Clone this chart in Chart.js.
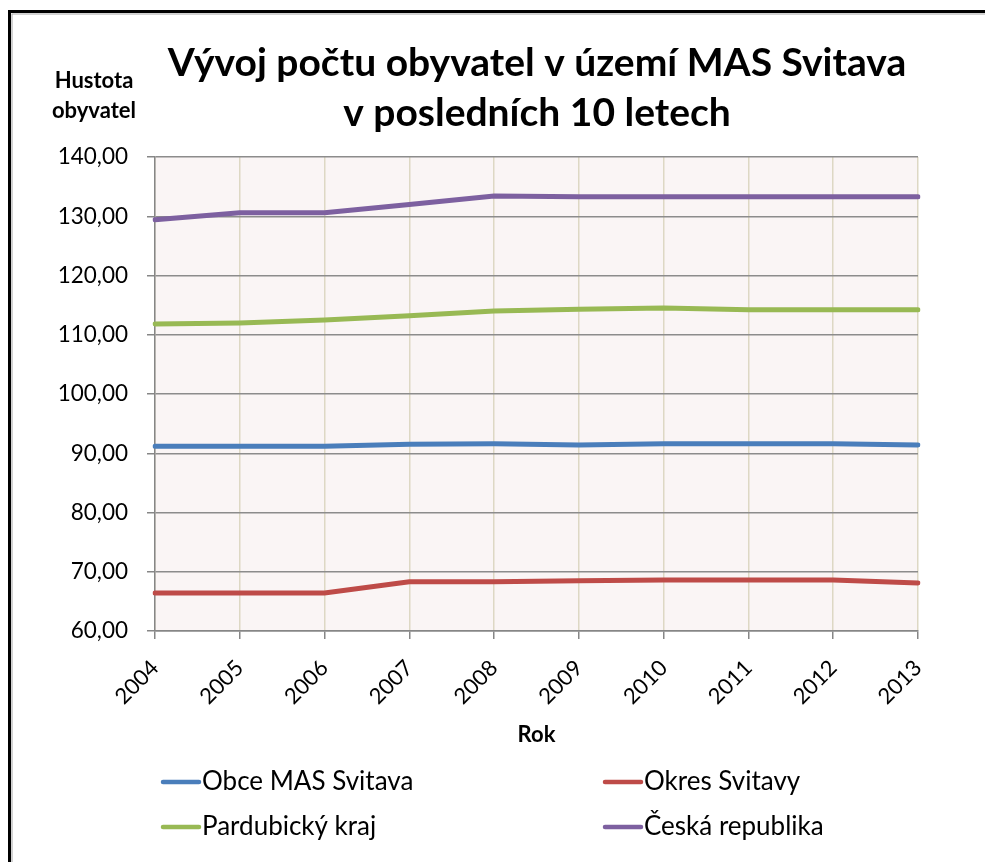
<!DOCTYPE html>
<html>
<head>
<meta charset="utf-8">
<script src="https://cdn.jsdelivr.net/npm/chart.js@4.4.1/dist/chart.umd.min.js"></script>
<style>
  html, body { margin: 0; padding: 0; background: #fff; }
  #wrap { width: 985px; height: 862px; position: relative; }
</style>
</head>
<body>
<div id="wrap"><canvas id="populationChart" width="985" height="862"></canvas></div>
<script>
// data (hustota obyvatel)
const years = ["2004", "2005", "2006", "2007", "2008", "2009", "2010", "2011", "2012", "2013"];
const obceMas = [91.2, 91.2, 91.2, 91.5, 91.6, 91.4, 91.6, 91.6, 91.6, 91.4];
const okresSvitavy = [66.4, 66.4, 66.4, 68.3, 68.3, 68.5, 68.6, 68.6, 68.6, 68.1];
const pardubickyKraj = [111.8, 112.0, 112.5, 113.2, 114.0, 114.3, 114.5, 114.2, 114.2, 114.2];
const ceskaRepublika = [129.4, 130.6, 130.6, 132.0, 133.4, 133.3, 133.3, 133.3, 133.3, 133.3];
const seriesNames = ["Obce MAS Svitava", "Okres Svitavy", "Pardubický kraj", "Česká republika"];
const yTicks = [60, 70, 80, 90, 100, 110, 120, 130, 140];

const titleLines = ["Vývoj počtu obyvatel v území MAS Svitava", "v posledních 10 letech"];
const yTitleLines = ["Hustota", "obyvatel"];

const FONT = "Lato, 'Open Sans', sans-serif";

const decorPlugin = {
  id: "decor",
  beforeDraw: (chart) => {
    const { ctx, chartArea } = chart;
    ctx.save();
    ctx.fillStyle = "#ffffff";
    ctx.fillRect(0, 0, chart.width, chart.height);
    // frame
    ctx.strokeStyle = "#000";
    ctx.lineWidth = 3;
    ctx.strokeRect(9.5, 11.5, chart.width + 20, chart.height + 20);
    ctx.strokeStyle = "#a6a6a6";
    ctx.lineWidth = 1;
    ctx.strokeRect(12, 14, chart.width + 20, chart.height + 20);
    // plot area
    ctx.fillStyle = "#faf5f5";
    ctx.fillRect(chartArea.left, chartArea.top, chartArea.right - chartArea.left, chartArea.bottom - chartArea.top);
    ctx.restore();
  },
  afterDraw: (chart) => {
    const { ctx } = chart;
    ctx.save();
    ctx.fillStyle = "#000";
    ctx.textAlign = "center";
    ctx.textBaseline = "middle";
    ctx.font = "bold 39px " + FONT;
    ctx.fillText(titleLines[0], 537, 63);
    ctx.fillText(titleLines[1], 537, 113);
    ctx.font = "bold 22px " + FONT;
    ctx.fillText(yTitleLines[0], 94, 81);
    ctx.fillText(yTitleLines[1], 94, 111);

    // legend, two columns
    const cols = [163, 605];
    const rows = [782, 827];
    ctx.font = "26px " + FONT;
    ctx.textAlign = "left";
    chart.data.datasets.forEach((ds, i) => {
      const x = cols[i % 2];
      const y = rows[Math.floor(i / 2)];
      ctx.strokeStyle = ds.borderColor;
      ctx.lineWidth = 4.5;
      ctx.lineCap = "round";
      ctx.beginPath();
      ctx.moveTo(x, y);
      ctx.lineTo(x + 36, y);
      ctx.stroke();
      ctx.fillStyle = "#000";
      ctx.fillText(ds.label, x + 39, y);
    });
    ctx.restore();
  },
};

const makeSet = (label, data, color) => ({
  label,
  data,
  borderColor: color,
  backgroundColor: color,
  borderWidth: 5,
  pointRadius: 0,
  tension: 0,
  borderCapStyle: "round",
});

new Chart(document.getElementById("populationChart").getContext("2d"), {
  type: "line",
  data: {
    labels: years,
    datasets: [
      makeSet(seriesNames[0], obceMas, "#4a7ebb"),
      makeSet(seriesNames[1], okresSvitavy, "#be4b48"),
      makeSet(seriesNames[2], pardubickyKraj, "#98b954"),
      makeSet(seriesNames[3], ceskaRepublika, "#7d60a0"),
    ],
  },
  options: {
    responsive: false,
    animation: false,
    layout: { padding: { left: 0, top: 157, right: 67, bottom: 114 } },
    plugins: {
      legend: { display: false },
      title: { display: false },
      tooltip: { enabled: false },
    },
    scales: {
      x: {
        grid: { color: "#ddd8c4", tickColor: "#868686", tickLength: 8, lineWidth: 1.5 },
        border: { color: "#868686", width: 1.5 },
        ticks: {
          color: "#000",
          font: { family: FONT, size: 22 },
          minRotation: 45,
          maxRotation: 45,
          padding: 16,
        },
        title: {
          display: true,
          text: "Rok",
          color: "#000",
          font: { family: FONT, size: 22, weight: "bold" },
          padding: 0,
        },
        afterFit: (scale) => { scale.height = 117; },
      },
      y: {
        min: 60,
        max: 140,
        afterBuildTicks: (scale) => { scale.ticks = yTicks.map((v) => ({ value: v })); },
        grid: { color: "#8c8c8c", tickColor: "#868686", tickLength: 8, lineWidth: 1.5 },
        border: { color: "#868686", width: 1.5 },
        ticks: {
          color: "#000",
          font: { family: FONT, size: 22.5 },
          padding: 19,
          callback: (v) => v.toFixed(2).replace(".", ","),
        },
        afterFit: (scale) => { scale.width = 155; },
      },
    },
  },
  plugins: [decorPlugin],
});
</script>
</body>
</html>
